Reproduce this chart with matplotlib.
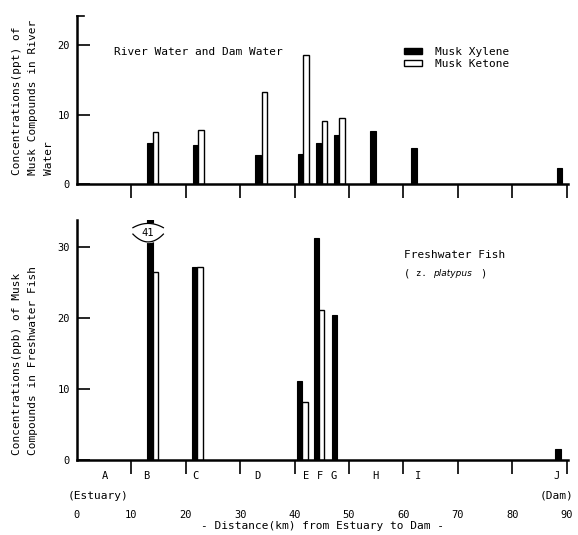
import matplotlib
matplotlib.use("Agg")
import matplotlib.pyplot as plt
import matplotlib.transforms as mtransforms
from matplotlib.patches import Rectangle
import numpy as np

# river / dam water (ppt)
water_xylene_km = [13.4, 21.8, 33.3, 41.1, 44.4, 47.7, 54.4, 62.0, 88.7]
water_xylene = [5.9, 5.6, 4.2, 4.3, 5.9, 7.1, 7.7, 5.2, 2.3]
water_ketone_km = [14.4, 22.8, 34.5, 42.1, 45.5, 48.7]
water_ketone = [7.5, 7.8, 13.3, 18.6, 9.1, 9.5]

# freshwater fish (ppb)
fish_xylene_km = [13.4, 21.6, 40.9, 44.0, 47.4, 88.4]
fish_xylene = [41, 27.2, 11.2, 31.3, 20.4, 1.6]
fish_ketone_km = [14.4, 22.6, 41.9, 45.0]
fish_ketone = [26.5, 27.2, 8.2, 21.1]

region_names = ['A', 'B', 'C', 'D', 'E', 'F', 'G', 'H', 'I', 'J']
region_km = [5.1, 12.7, 21.7, 33.1, 42.1, 44.7, 47.1, 54.8, 62.7, 88.2]
km_ticks = list(range(0, 100, 10))

mono = 'DejaVu Sans Mono'
plt.rcParams['font.family'] = mono
plt.rcParams['font.size'] = 7.5

fig = plt.figure(figsize=(5.78, 5.35), dpi=100)
ax1 = fig.add_axes([0.133, 0.656, 0.850, 0.314])
ax2 = fig.add_axes([0.133, 0.140, 0.850, 0.449])

bw = 1.0
for ax in (ax1, ax2):
    for s in ('top', 'right'):
        ax.spines[s].set_visible(False)
    for s in ('left', 'bottom'):
        ax.spines[s].set_linewidth(1.8)
    ax.set_xlim(0, 90.3)
    ax.tick_params(axis='y', direction='in', length=9, width=1.2, pad=5)
    ax.tick_params(axis='x', direction='out', length=10, width=1.2)

# top panel
ax1.bar(water_xylene_km, water_xylene, width=bw, color='black', edgecolor='black', lw=0.8)
ax1.bar(water_ketone_km, water_ketone, width=bw, color='white', edgecolor='black', lw=1.0)
ax1.set_ylim(0, 24.2)
ax1.set_yticks([0, 10, 20])
ax1.set_xticks(km_ticks[1:])
ax1.set_xticklabels([])
ax1.plot([0, 1.3], [24.2, 24.2], color='black', lw=1.2, clip_on=False)
ax1.text(0.075, 0.77, 'River Water and Dam Water', transform=ax1.transAxes, fontsize=8)
ax1.legend(handles=[Rectangle((0, 0), 1, 1, fc='black', ec='black'),
                    Rectangle((0, 0), 1, 1, fc='white', ec='black')],
           labels=['Musk Xylene', 'Musk Ketone'], loc='upper left',
           bbox_to_anchor=(0.645, 0.875), frameon=False, fontsize=8,
           handlelength=1.6, handleheight=0.5, labelspacing=0.15, handletextpad=1.2)

# bottom panel
ax2.bar(fish_xylene_km, fish_xylene, width=bw, color='black', edgecolor='black', lw=0.8)
ax2.bar(fish_ketone_km, fish_ketone, width=bw, color='white', edgecolor='black', lw=1.0)
ax2.set_ylim(0, 33.8)
ax2.set_yticks([0, 10, 20, 30])
ax2.set_xticks(km_ticks)
ax2.set_xticklabels([str(k) for k in km_ticks])
ax2.tick_params(axis='x', pad=26)
ax2.xaxis.get_major_ticks()[0].tick1line.set_visible(False)
ax2.set_xlabel('- Distance(km) from Estuary to Dam -', fontsize=8, labelpad=1)

# break mark on the off-scale bar
cx = fish_xylene_km[0] - 0.3
xs = np.linspace(cx - 2.8, cx + 2.8, 40)
u = (xs - cx) / 2.8
top = 32.7 + 0.6 * (1 - u ** 2)
bot = 31.8 - 1.1 * (1 - u ** 2)
ax2.fill_between(xs, bot, top, color='white', zorder=3)
ax2.plot(xs, top, color='black', lw=0.9, zorder=4)
ax2.plot(xs, bot, color='black', lw=0.9, zorder=4)
ax2.text(cx, 32.0, str(fish_xylene[0]), ha='center', va='center', fontsize=7.5, zorder=5)

ax2.text(0.665, 0.84, 'Freshwater Fish', transform=ax2.transAxes, fontsize=8)
ax2.text(0.665, 0.765, '( ', transform=ax2.transAxes, fontsize=7.5)
ax2.text(0.690, 0.765, 'z. ', transform=ax2.transAxes, fontsize=6.5)
ax2.text(0.725, 0.765, 'platypus', transform=ax2.transAxes, fontsize=6.5, style='italic',
         family='DejaVu Sans')
ax2.text(0.820, 0.765, ')', transform=ax2.transAxes, fontsize=7.5)

trans = mtransforms.blended_transform_factory(ax2.transData, ax2.transAxes)
for name, km in zip(region_names, region_km):
    ax2.text(km, -0.068, name, transform=trans, ha='center', va='center', fontsize=7.5)
ax2.text(3.8, -0.148, '(Estuary)', transform=trans, ha='center', va='center', fontsize=8)
ax2.text(88.2, -0.148, '(Dam)', transform=trans, ha='center', va='center', fontsize=8)

fig.text(0.021, 0.673, 'Concentrations(ppt) of\nMusk Compounds in River\nWater',
         rotation=90, ha='left', va='bottom', multialignment='left',
         fontsize=8, linespacing=1.75)
fig.text(0.021, 0.150, 'Concentrations(ppb) of Musk\nCompounds in Freshwater Fish',
         rotation=90, ha='left', va='bottom', multialignment='left',
         fontsize=8, linespacing=1.75)

fig.savefig('out.png', dpi=100)
